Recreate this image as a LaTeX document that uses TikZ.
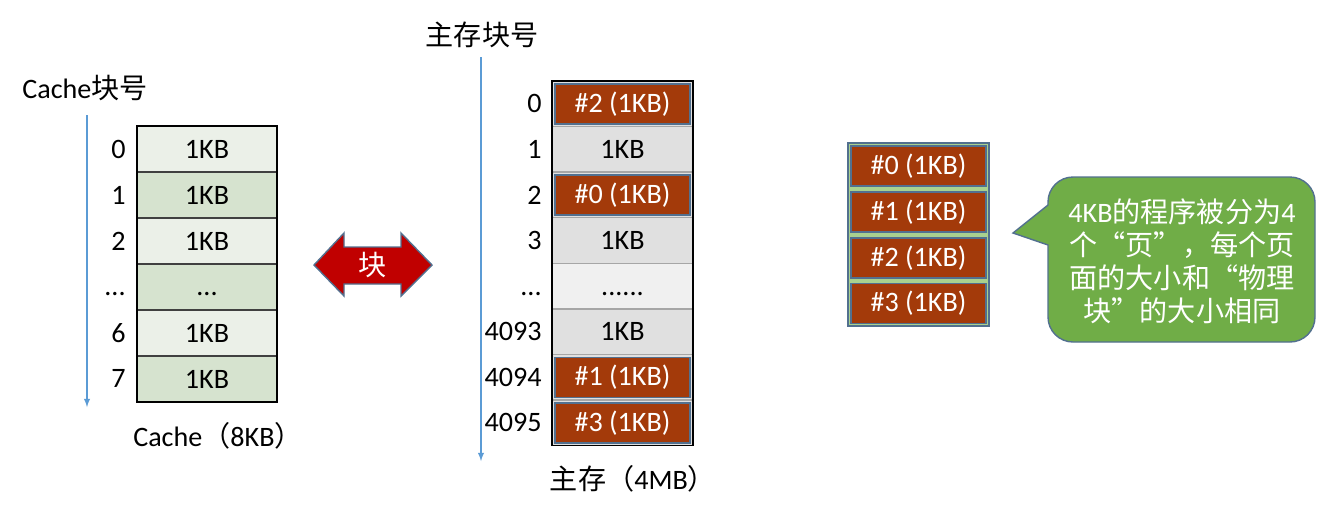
\documentclass[tikz,border=0pt]{standalone}
\usepackage{fontspec}
\setmainfont{Carlito}
\newfontfamily\cjk{Noto Sans CJK SC}
\usetikzlibrary{positioning}

\definecolor{cachelight}{HTML}{EBF0E8}
\definecolor{cachedark}{HTML}{D6E3CF}
\definecolor{memgray}{HTML}{E0E0E0}
\definecolor{memlight}{HTML}{F0F0F0}
\definecolor{pagered}{HTML}{A33A0A}
\definecolor{edgeblue}{HTML}{52708F}
\definecolor{axisblue}{HTML}{5B9BD5}
\definecolor{arrowred}{HTML}{C00000}
\definecolor{framegreen}{HTML}{A9D18E}
\definecolor{notegreen}{HTML}{70AD47}

\begin{document}
\begin{tikzpicture}[x=0.02cm, y=-0.02cm,
  every node/.style={font=\fontsize{16}{19}\selectfont},
  cachecell/.style={rectangle, draw=black!75, line width=0.8pt, outer sep=0pt, minimum width=2.8cm, minimum height=0.92cm, inner sep=0pt},
  memcell/.style={rectangle, draw=gray!70, line width=0.8pt, outer sep=0pt, fill=memgray, minimum width=2.82cm, minimum height=0.912cm, inner sep=0pt},
  pagecell/.style={rectangle, draw=edgeblue, line width=0.8pt, fill=pagered, text=white, minimum width=2.7cm, minimum height=0.8cm, inner sep=0pt},
  num/.style={inner sep=0pt},
  axis/.style={draw=axisblue, -latex, line width=0.6pt}]
\useasboundingbox (0,0) rectangle (1335,512);

% Cache
\node[cachecell, fill=cachelight] (c0) at (207,149) {1KB};
\node[cachecell, fill=cachedark, below=0pt of c0] (c1) {1KB};
\node[cachecell, fill=cachelight, below=0pt of c1] (c2) {1KB};
\node[cachecell, fill=cachedark, below=0pt of c2] (c3) {\vphantom{1}...};
\node[cachecell, fill=cachelight, below=0pt of c3] (c4) {1KB};
\node[cachecell, fill=cachedark, below=0pt of c4] (c5) {1KB};
\draw[black, line width=0.8pt] (c0.north west) rectangle (c5.south east);
\node[num, left=0.22cm of c0] (cn0) {0};
\node[num, left=0.22cm of c1] (cn1) {1};
\node[num, left=0.22cm of c2] (cn2) {2};
\node[num, left=0.22cm of c3] (cn3) {\vphantom{1}...};
\node[num, left=0.22cm of c4] (cn4) {6};
\node[num, left=0.22cm of c5] (cn5) {7};
\coordinate (cachetop) at (87,115);
\coordinate (cachebot) at (87,407);
\draw[axis] (cachetop) -- (cachebot);
\node (cachehead) at (85,88) {Cache{\cjk 块号}};
\node (cachename) at (218,436) {Cache{\cjk （}8KB{\cjk ）}};

% block arrow
\filldraw[fill=arrowred, draw=edgeblue, line width=0.8pt] (314,265) -- (344,233) -- (344,247) -- (401,247) -- (401,233) -- (432,265) -- (401,296) -- (401,284) -- (344,284) -- (344,296) -- cycle;
\node[text=white, font=\cjk\fontsize{16}{18}\selectfont] (blk) at (373,265) {块};

% main memory
\node[memcell] (m0) at (622.5,103.8) {};
\node[memcell, below=0pt of m0] (m1) {1KB};
\node[memcell, below=0pt of m1] (m2) {};
\node[memcell, below=0pt of m2] (m3) {1KB};
\node[memcell, fill=memlight, below=0pt of m3] (m4) {\vphantom{1}......};
\node[memcell, below=0pt of m4] (m5) {1KB};
\node[memcell, below=0pt of m5] (m6) {};
\node[memcell, below=0pt of m6] (m7) {};
\draw[black, line width=0.8pt] (m0.north west) rectangle (m7.south east);
\node[pagecell] (m0p) at (m0) {\#2 (1KB)};
\node[pagecell] (m2p) at (m2) {\#0 (1KB)};
\node[pagecell] (m6p) at (m6) {\#1 (1KB)};
\node[pagecell] (m7p) at (m7) {\#3 (1KB)};
\node[num, left=0.2cm of m0] (mn0) {0};
\node[num, left=0.2cm of m1] (mn1) {1};
\node[num, left=0.2cm of m2] (mn2) {2};
\node[num, left=0.2cm of m3] (mn3) {3};
\node[num, left=0.2cm of m4] (mn4) {\vphantom{1}...};
\node[num, left=0.2cm of m5] (mn5) {4093};
\node[num, left=0.2cm of m6] (mn6) {4094};
\node[num, left=0.2cm of m7] (mn7) {4095};
\coordinate (memtop) at (481,57);
\coordinate (membot) at (481,461);
\draw[axis] (memtop) -- (membot);
\node[font=\cjk\fontsize{16}{18}\selectfont] (memhead) at (482,35) {主存块号};
\node (memname) at (633,479) {{\cjk 主存（}4MB{\cjk ）}};

% program pages
\node[rectangle, draw=edgeblue, line width=0.8pt, fill=framegreen, minimum width=2.82cm, minimum height=3.66cm] (prog) at (918.5,234.5) {};
\node[pagecell] (p0) at (918.5,166) {\#0 (1KB)};
\node[pagecell] (p1) at (918.5,212) {\#1 (1KB)};
\node[pagecell] (p2) at (918.5,258) {\#2 (1KB)};
\node[pagecell] (p3) at (918.5,303.5) {\#3 (1KB)};

% callout
\coordinate (tip) at (1013,233);
\draw[fill=notegreen, draw=edgeblue, line width=0.8pt] (1048,205) [rounded corners=0.5cm] -- (1048,177) -- (1315,177) -- (1315,342) -- (1048,342) [sharp corners] -- (1048,245) -- (tip) -- cycle;
\node[text=white, align=center, font=\cjk\fontsize{16}{18.7}\selectfont] (note) at (1182,261) {{\rmfamily 4KB}的程序被分为{\rmfamily 4}\\个“页”，每个页\\面的大小和“物理\\块”的大小相同};
\end{tikzpicture}
\end{document}
